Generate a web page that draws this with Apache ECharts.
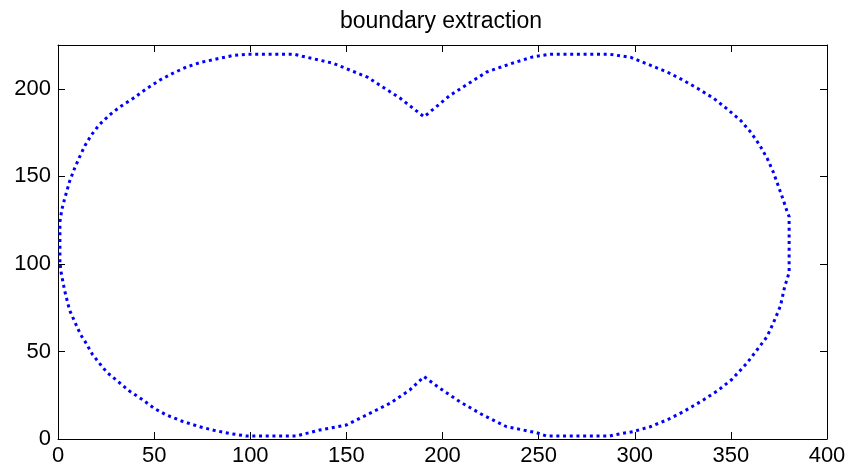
<!DOCTYPE html>
<html>
<head>
<meta charset="utf-8">
<script src="https://cdn.jsdelivr.net/npm/echarts@6/dist/echarts.min.js"></script>
<style>html,body{margin:0;padding:0;background:#fff;}#c{width:850px;height:468px;}</style>
</head>
<body>
<div id="c"></div>
<script>
var titleText = 'boundary extraction';
var xTicks = [0, 50, 100, 150, 200, 250, 300, 350, 400];
var yTicks = [0, 50, 100, 150, 200];
// boundary contour (closed path)
var boundaryX = [1, 1, 2, 3.4, 6, 8.6, 11.2, 14, 17.3, 21.5, 26.8, 32, 39, 46, 53, 60, 67, 74, 81, 91, 99, 123, 127, 143, 161, 178, 190.4,
  204, 223, 236, 247, 256, 287, 298, 308, 317, 325, 333, 341, 348, 355, 360.5, 365, 369, 372, 374.5, 377.3, 379.3, 380.3, 380.3, 378, 375.8, 372,
  368.8, 364.3, 358.4, 350.5, 343, 335.7, 325.3, 317, 308, 299, 289, 287, 254, 249, 233.4, 221, 209, 198.7, 190.4,
  183, 172.7, 160.5, 150, 136, 126, 124, 98, 89, 81, 73.7, 65, 56.4, 50, 44.2, 37, 30.3, 25.5, 21.6, 17.8, 14.7, 11.8, 9.5, 6, 3.4, 1.7, 1];
var boundaryY = [101, 124, 131, 137, 147, 154.5, 161, 167.5, 173.5, 179.5, 185, 189.5, 194.5, 200, 205, 209, 212.5, 215, 216.7, 219, 219.7, 219.7, 218.6, 214.6, 206.6, 194.6, 184,
  196.3, 209.6, 214.5, 218.2, 219.7, 219.7, 217.9, 213.5, 209.5, 205, 200, 194.6, 188.5, 182, 175, 167.8, 160, 152.6, 145, 136.4, 129.7, 127, 95, 87, 76, 66,
  58.4, 51.9, 43.4, 34, 27.5, 22.3, 15.6, 11, 7, 4.2, 2.3, 1.7, 1.7, 3.6, 7, 13.7, 21.3, 28.9, 35.6,
  28, 20.4, 13.7, 8, 5.1, 2.3, 1.7, 1.7, 3.2, 5, 7, 10, 13.7, 17.5, 22.3, 27.5, 33.7, 38, 43.2, 48.5, 54.6, 59.5, 65, 73.6, 85, 94.6, 101];

var pts = boundaryX.map(function (x, i) { return [x, boundaryY[i]]; });
var font = 'Liberation Sans, Arial, sans-serif';
var chart = echarts.init(document.getElementById('c'), null, {renderer: 'canvas'});
function xAxisCfg(pos, labels) {
  return {
    type: 'value', position: pos, min: xTicks[0], max: xTicks[xTicks.length - 1], interval: 50,
    axisLine: {show: true, onZero: false, lineStyle: {color: '#000', width: 1}},
    axisTick: {show: true, inside: true, length: 7, lineStyle: {color: '#000', width: 1}},
    axisLabel: {show: labels, color: '#000', fontSize: 22, fontFamily: font, margin: 6},
    splitLine: {show: false}
  };
}
function yAxisCfg(pos, labels) {
  return {
    type: 'value', position: pos, min: 0, max: 225, interval: 50,
    axisLine: {show: true, onZero: false, lineStyle: {color: '#000', width: 1}},
    axisTick: {show: true, inside: true, length: 7, lineStyle: {color: '#000', width: 1}},
    axisLabel: {show: labels, color: '#000', fontSize: 22, fontFamily: font, margin: 7,
      formatter: function (v) { return yTicks.indexOf(v) >= 0 ? String(v) : ''; }},
    splitLine: {show: false}
  };
}
chart.setOption({
  animation: false,
  backgroundColor: '#fff',
  title: {
    text: titleText, left: 335, top: 5, padding: [5, 5, 5, 5],
    textStyle: {color: '#000', fontSize: 23, fontWeight: 'normal', fontFamily: font}
  },
  grid: {left: 58, right: 23, top: 45, bottom: 29, containLabel: false},
  xAxis: [xAxisCfg('bottom', true), xAxisCfg('top', false)],
  yAxis: [yAxisCfg('left', true), yAxisCfg('right', false)],
  series: [{
    type: 'line', data: pts, showSymbol: false, smooth: false,
    lineStyle: {color: '#0000ff', width: 3, type: [3, 3.7], cap: 'butt'}
  }]
});
</script>
</body>
</html>
